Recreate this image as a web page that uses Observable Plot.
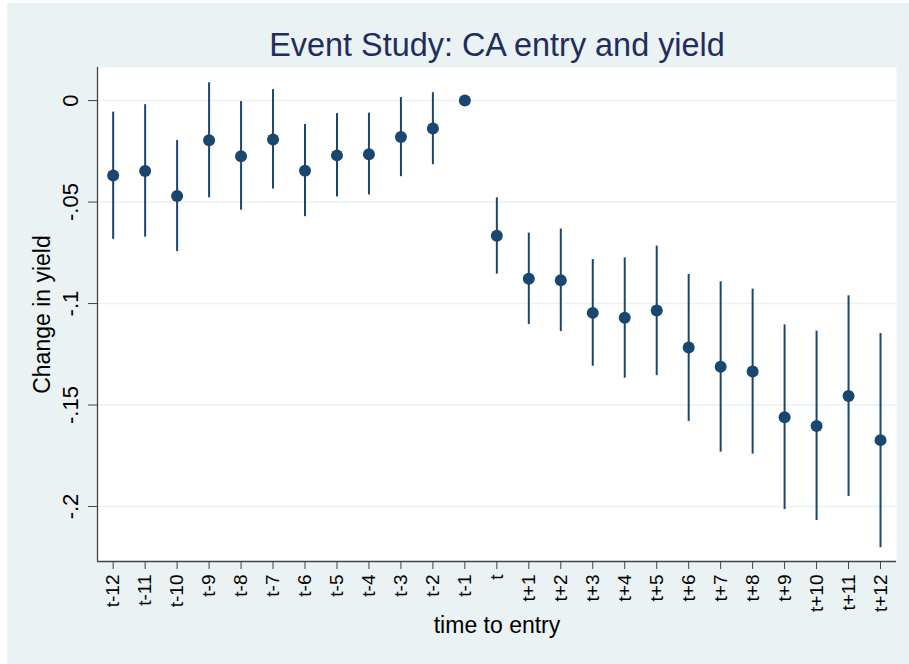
<!DOCTYPE html>
<html>
<head>
<meta charset="utf-8">
<script src="https://cdn.jsdelivr.net/npm/d3@7"></script>
<script src="https://cdn.jsdelivr.net/npm/@observablehq/plot@0.6"></script>
<style>
  html, body { margin: 0; padding: 0; background: #ffffff; }
  #chart { position: absolute; left: 7px; top: 3px; }
  #chart svg { display: block; background: #eaf2f3; font-family: "Liberation Sans", Arial, sans-serif; }
</style>
</head>
<body>
<div id="chart"></div>
<script>
const title = "Event Study: CA entry and yield";
const xTitle = "time to entry";
const yTitle = "Change in yield";

const periods = ["t-12","t-11","t-10","t-9","t-8","t-7","t-6","t-5","t-4","t-3","t-2","t-1",
                 "t","t+1","t+2","t+3","t+4","t+5","t+6","t+7","t+8","t+9","t+10","t+11","t+12"];
const eventTime = [-12,-11,-10,-9,-8,-7,-6,-5,-4,-3,-2,-1,0,1,2,3,4,5,6,7,8,9,10,11,12];

const coef = [-0.0369,-0.0347,-0.0470,-0.0195,-0.0274,-0.0192,-0.0346,-0.0270,-0.0264,-0.0180,-0.0138,0,
              -0.0666,-0.0878,-0.0885,-0.1046,-0.1070,-0.1034,-0.1217,-0.1312,-0.1335,-0.1560,-0.1603,-0.1456,-0.1673];
const ciLow = [-0.0684,-0.0673,-0.0744,-0.0479,-0.0540,-0.0436,-0.0572,-0.0475,-0.0465,-0.0375,-0.0316,null,
               -0.0855,-0.1103,-0.1138,-0.1309,-0.1368,-0.1355,-0.1581,-0.1732,-0.1742,-0.2015,-0.2069,-0.1951,-0.2203];
const ciHigh = [-0.0057,-0.0020,-0.0197,0.0088,-0.0005,0.0054,-0.0118,-0.0064,-0.0062,0.0015,0.0039,null,
                -0.0479,-0.0653,-0.0633,-0.0783,-0.0775,-0.0717,-0.0857,-0.0893,-0.0929,-0.1105,-0.1136,-0.0962,-0.1148];

const yTicks = [0, -0.05, -0.1, -0.15, -0.2];
const yTickLabels = ["0", "-.05", "-.1", "-.15", "-.2"];

const data = periods.map((p, i) => ({period: p, k: eventTime[i], coef: coef[i], lo: ciLow[i], hi: ciHigh[i]}));
const ci = data.filter(d => d.lo != null);

const xDomain = [-12.49, 12.5];
const yDomain = [-0.2271, 0.0163];
const navy = "#1a476f";
const axisColor = "#444444";

const chart = Plot.plot({
  width: 902,
  height: 661,
  marginLeft: 90,
  marginRight: 13,
  marginTop: 64,
  marginBottom: 103,
  style: {fontFamily: "'Liberation Sans', Arial, sans-serif", color: "#000000", background: "#eaf2f3"},
  x: {type: "linear", domain: xDomain},
  y: {type: "linear", domain: yDomain},
  marks: [
    Plot.frame({fill: "#ffffff", stroke: null}),
    Plot.gridY(yTicks, {stroke: "#eaf2f3", strokeOpacity: 1, strokeWidth: 1.5}),
    Plot.ruleX(ci, {x: "k", y1: "lo", y2: "hi", stroke: navy, strokeWidth: 2}),
    Plot.dot(data, {x: "k", y: "coef", r: 6, fill: navy, stroke: null}),
    Plot.ruleX([xDomain[0]], {stroke: axisColor, strokeWidth: 1.3}),
    Plot.ruleY([yDomain[0]], {stroke: axisColor, strokeWidth: 1.3}),
    Plot.axisY({
      ticks: yTicks,
      tickFormat: d => yTickLabels[yTicks.findIndex(t => Math.abs(t - d) < 1e-9)],
      tickSize: 9, tickPadding: 11, tickRotate: -90, fontSize: 22,
      stroke: axisColor, fill: "#000000",
      label: null
    }),
    Plot.axisX({
      ticks: eventTime,
      tickFormat: d => periods[eventTime.indexOf(d)],
      tickSize: 8, tickPadding: 5, tickRotate: -90, fontSize: 19,
      stroke: axisColor, fill: "#000000",
      label: null
    }),
    Plot.text([yTitle], {frameAnchor: "left", dx: -64, rotate: -90, lineAnchor: "top", textAnchor: "middle", fontSize: 23, fill: "#000000", text: d => d}),
    Plot.text([xTitle], {frameAnchor: "bottom", dy: 71, lineAnchor: "bottom", textAnchor: "middle", fontSize: 23, fill: "#000000", text: d => d}),
    Plot.text([title], {frameAnchor: "top", dy: -12, lineAnchor: "bottom", fontSize: 32.4, fill: "#1f2d5c", text: d => d})
  ]
});
document.getElementById("chart").appendChild(chart);
</script>
</body>
</html>
